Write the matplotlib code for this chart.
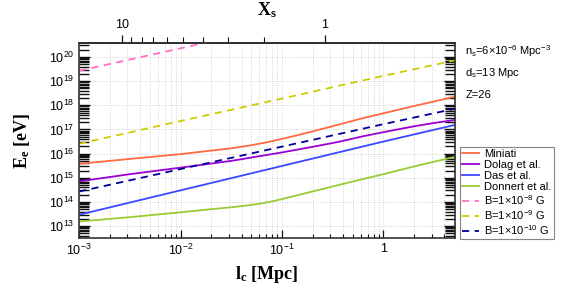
import numpy as np
import matplotlib
matplotlib.use('agg')
import matplotlib.pyplot as plt
from matplotlib.ticker import FuncFormatter, FixedLocator, NullFormatter

plt.rcParams['font.family'] = 'Liberation Sans'
plt.rcParams['mathtext.default'] = 'regular'
plt.rcParams['axes.unicode_minus'] = False

# log10(l_c / Mpc) and log10(E_e / eV)
LC_MINIATI = [-3.0, -2.5, -2.0, -1.5, -1.3, -1.15, -1.0, -0.85, -0.7, -0.45, -0.23, 0.0, 0.27, 0.5, 0.716]
E_MINIATI  = [15.58, 15.78, 15.98, 16.22, 16.35, 16.47, 16.61, 16.76, 16.92, 17.19, 17.44, 17.67, 17.94, 18.16, 18.37]

LC_DOLAG = [-3.0, -2.5, -2.0, -1.5, -1.0, -0.7, -0.45, -0.2, 0.05, 0.3, 0.5, 0.716]
E_DOLAG  = [14.85, 15.15, 15.42, 15.7, 16.05, 16.28, 16.48, 16.72, 16.93, 17.13, 17.27, 17.4]

LC_DAS = [-3.0, -2.0, -1.0, 0.0, 0.716]
E_DAS  = [13.47, 14.48, 15.49, 16.5, 17.2]

LC_DONNERT = [-3.0, -2.5, -2.0, -1.7, -1.5, -1.35, -1.2, -1.1, -1.0, -0.75, -0.5, -0.25, 0.0, 0.35, 0.716]
E_DONNERT  = [13.19, 13.37, 13.57, 13.7, 13.78, 13.85, 13.94, 14.02, 14.12, 14.38, 14.64, 14.9, 15.15, 15.52, 15.88]

LC_B = [-3.0, -2.0, -1.0, 0.0, 0.716]
E_B8  = [19.43, 20.36, 21.3, 22.24, 22.9]
E_B9  = [16.41, 17.35, 18.28, 19.22, 19.87]
E_B10 = [14.43, 15.36, 16.29, 17.22, 17.87]

SOLID = [('Miniati', LC_MINIATI, E_MINIATI, '#ff6a40'),
         ('Dolag et al.', LC_DOLAG, E_DOLAG, '#9a00d0'),
         ('Das et al.', LC_DAS, E_DAS, '#3a48ff'),
         ('Donnert et al.', LC_DONNERT, E_DONNERT, '#99cc33')]
DASHED = [(r'B=1$\times$10$^{-8}$ G', E_B8, '#ff6ec7'),
          (r'B=1$\times$10$^{-9}$ G', E_B9, '#cccc00'),
          (r'B=1$\times$10$^{-10}$ G', E_B10, '#000099')]

XS_CONST = 0.515  # X_s = XS_CONST / sqrt(l_c)

fig = plt.figure(figsize=(5.69, 2.88), dpi=100)
ax = fig.add_axes([0.139, 0.173, 0.661, 0.676])

for label, lc, e, c in SOLID:
    ax.plot(10 ** np.array(lc), 10 ** np.array(e), color=c, lw=1.3, label=label)
for label, e, c in DASHED:
    ax.plot(10 ** np.array(LC_B), 10 ** np.array(e), color=c, lw=1.3,
            ls=(0, (4, 3)), label=label)

ax.set_xscale('log')
ax.set_yscale('log')
ax.set_xlim(1e-3, 5.1)
ax.set_ylim(10 ** 12.5, 10 ** 20.56)

def pow_fmt(v, pos):
    k = int(round(np.log10(v)))
    return '1' if k == 0 else r'10$^{%d}$' % k

decades = np.arange(13, 21)
ax.xaxis.set_major_formatter(FuncFormatter(pow_fmt))
ax.yaxis.set_major_locator(FixedLocator(10.0 ** decades))
ax.yaxis.set_minor_locator(FixedLocator([m * 10.0 ** d for d in range(12, 21) for m in range(2, 10)]))
ax.yaxis.set_major_formatter(FuncFormatter(pow_fmt))
ax.yaxis.set_minor_formatter(NullFormatter())
ax.tick_params(which='both', direction='in', right=True, top=False,
               labelsize=9, color='#111111')
ax.tick_params(axis='y', which='major', length=8, width=1.0)
ax.tick_params(axis='y', which='minor', length=7, width=1.0)
ax.tick_params(axis='x', which='major', length=6, width=0.9)
ax.tick_params(axis='x', which='minor', length=3, width=0.8)
ax.grid(True, which='major', ls=':', lw=0.6, color='#c8c8c8')
ax.grid(True, which='minor', axis='x', ls=':', lw=0.6, color='#c8c8c8')
for s in ax.spines.values():
    s.set_color('#333333')
    s.set_linewidth(1.2)

lab = dict(family='Liberation Serif', weight='bold', fontsize=13)
ax.set_xlabel(r'l$_c$ [Mpc]', labelpad=4, **lab)
ax.set_ylabel(r'E$_e$ [eV]', labelpad=12, **lab)

top = ax.secondary_xaxis('top', functions=(lambda l: XS_CONST / np.sqrt(l),
                                           lambda x: (XS_CONST / x) ** 2))
top.xaxis.set_major_locator(FixedLocator([1, 10]))
top.xaxis.set_minor_locator(FixedLocator([2, 3, 4, 5, 6, 7, 8, 9]))
top.xaxis.set_major_formatter(FuncFormatter(lambda v, p: '%g' % v))
top.xaxis.set_minor_formatter(NullFormatter())
top.tick_params(which='both', direction='out', labelsize=9, pad=3, color='#111111')
top.tick_params(which='major', length=6, width=0.9)
top.tick_params(which='minor', length=4, width=0.8)
top.spines['top'].set_linewidth(1.2)
top.set_xlabel(r'X$_s$', labelpad=3, **lab)

fig.text(0.818, 0.81, r'n$_s$=6$\times$10$^{-6}$ Mpc$^{-3}$', fontsize=8)
fig.text(0.818, 0.735, r'd$_s$=13 Mpc', fontsize=8)
fig.text(0.818, 0.66, 'Z=26', fontsize=8)

leg = ax.legend(loc='lower left', bbox_to_anchor=(1.012, -0.005), fontsize=8,
                frameon=True, fancybox=False, handlelength=1.5,
                handletextpad=0.5, labelspacing=0.1, borderpad=0.2,
                borderaxespad=0)
leg.get_frame().set_edgecolor('#666666')
leg.get_frame().set_linewidth(0.8)

fig.savefig('out.png', dpi=100)
